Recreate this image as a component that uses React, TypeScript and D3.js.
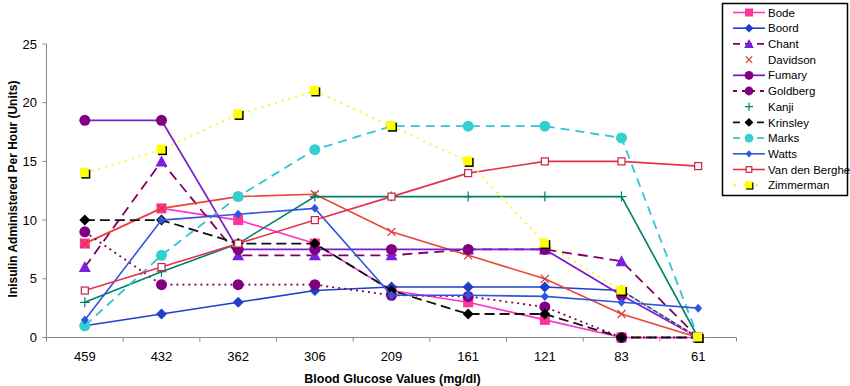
import React from "react";
import * as d3 from "d3";

const categories = ["459", "432", "362", "306", "209", "161", "121", "83", "61"];
const yTicks = [0, 5, 10, 15, 20, 25];

const bode = [8, 11, 10, 8, 4, 3, 1.5, 0, 0];
const boord = [1, 2, 3, 4, 4.3, 4.3, 4.3, 4, 0];
const chant = [6, 15, 7, 7, 7, 7.5, 7.5, 6.5, 0];
const davidson = [8, 11, 12, 12.2, 9, 7, 5, 2, 0];
const fumary = [18.5, 18.5, 7.5, 7.5, 7.5, 7.5, 7.5, 3.6, 0];
const goldberg = [9, 4.5, 4.5, 4.5, 3.6, 3.5, 2.6, 0, 0];
const kanji = [3, 5.6, 8, 12, 12, 12, 12, 12, 0];
const krinsley = [10, 10, 8, 8, 4, 2, 2, 0, 0];
const marks = [1, 7, 12, 16, 18, 18, 18, 17, 0];
const watts = [1.5, 10, 10.5, 11, 3.6, 3.6, 3.5, 3, 2.5];
const vandenberghe = [4, 6, 8, 10, 12, 14, 15, 15, 14.6];
const zimmerman = [14, 16, 19, 21, 18, 15, 8, 4, 0];

type Marker = "square" | "diamond" | "smalldiamond" | "triangle" | "x" | "circle" | "plus" | "opensquare" | "shadowsquare";

interface Series {
  name: string;
  values: number[];
  line: string;
  marker: Marker;
  mcolor: string;
  dash: string | null;
  width: number;
  legendLine: boolean;
}

const series: Series[] = [
  { name: "Bode", values: bode, line: "#FF33CC", marker: "square", mcolor: "#FF3399", dash: null, width: 1.6, legendLine: true },
  { name: "Boord", values: boord, line: "#1F3FCC", marker: "diamond", mcolor: "#1F3FCC", dash: null, width: 1.6, legendLine: true },
  { name: "Chant", values: chant, line: "#800066", marker: "triangle", mcolor: "#7A1FE0", dash: "10,6", width: 1.8, legendLine: true },
  { name: "Davidson", values: davidson, line: "#EE4433", marker: "x", mcolor: "#D03838", dash: null, width: 1.6, legendLine: false },
  { name: "Fumary", values: fumary, line: "#7A1FCC", marker: "circle", mcolor: "#800080", dash: null, width: 1.8, legendLine: true },
  { name: "Goldberg", values: goldberg, line: "#800050", marker: "circle", mcolor: "#800080", dash: "2,4", width: 1.8, legendLine: true },
  { name: "Kanji", values: kanji, line: "#007F66", marker: "plus", mcolor: "#007F66", dash: null, width: 1.6, legendLine: false },
  { name: "Krinsley", values: krinsley, line: "#111111", marker: "diamond", mcolor: "#000000", dash: "10,5", width: 1.8, legendLine: true },
  { name: "Marks", values: marks, line: "#33C4D4", marker: "circle", mcolor: "#33D0D0", dash: "9,6", width: 1.8, legendLine: true },
  { name: "Watts", values: watts, line: "#3355DD", marker: "smalldiamond", mcolor: "#2E55DD", dash: null, width: 1.6, legendLine: true },
  { name: "Van den Berghe", values: vandenberghe, line: "#E8304A", marker: "opensquare", mcolor: "#CC2244", dash: null, width: 1.6, legendLine: true },
  { name: "Zimmerman", values: zimmerman, line: "#FFF233", marker: "shadowsquare", mcolor: "#FFFF00", dash: "2,5", width: 2, legendLine: true },
];

function MarkerShape({ m, x, y, color, scale = 1 }: { m: Marker; x: number; y: number; color: string; scale?: number }) {
  const s = scale;
  switch (m) {
    case "square":
      return <rect x={x - 5 * s} y={y - 5 * s} width={10 * s} height={10 * s} fill={color} />;
    case "shadowsquare":
      return (
        <g>
          <rect x={x - 3.5 * s} y={y - 3.5 * s} width={9 * s} height={9 * s} fill="#000" />
          <rect x={x - 5 * s} y={y - 5 * s} width={9 * s} height={9 * s} fill={color} />
        </g>
      );
    case "opensquare":
      return <rect x={x - 3.5 * s} y={y - 3.5 * s} width={7 * s} height={7 * s} fill="#fff" stroke={color} strokeWidth={1.2} />;
    case "diamond":
      return <path d={`M${x},${y - 5.5 * s}L${x + 5.5 * s},${y}L${x},${y + 5.5 * s}L${x - 5.5 * s},${y}Z`} fill={color} />;
    case "smalldiamond":
      return <path d={`M${x},${y - 4.5 * s}L${x + 4 * s},${y}L${x},${y + 4.5 * s}L${x - 4 * s},${y}Z`} fill={color} />;
    case "triangle":
      return <path d={`M${x},${y - 6 * s}L${x + 6 * s},${y + 5 * s}L${x - 6 * s},${y + 5 * s}Z`} fill={color} />;
    case "circle":
      return <circle cx={x} cy={y} r={5.5 * s} fill={color} />;
    case "x":
      return (
        <path d={`M${x - 4 * s},${y - 4 * s}L${x + 4 * s},${y + 4 * s}M${x - 4 * s},${y + 4 * s}L${x + 4 * s},${y - 4 * s}`} stroke={color} strokeWidth={1.2} />
      );
    case "plus":
      return <path d={`M${x - 5 * s},${y}L${x + 5 * s},${y}M${x},${y - 5 * s}L${x},${y + 5 * s}`} stroke={color} strokeWidth={1.2} />;
  }
  return null;
}

export default function App() {
  const W = 850;
  const H = 386;
  const x0 = 46.5;
  const x1 = 736.5;
  const y0 = 337.5;
  const y1 = 44;
  const x = d3.scaleBand<string>().domain(categories).range([x0, x1]).padding(0);
  const y = d3.scaleLinear().domain([0, 25]).range([y0, y1]);
  const cx = (c: string) => (x(c) as number) + x.bandwidth() / 2;
  const line = d3
    .line<number>()
    .x((_, i) => cx(categories[i]))
    .y((v) => y(v));

  const font = "'Liberation Sans', Arial, sans-serif";
  const boundaries = categories.map((c) => x(c) as number).concat([x1]);

  const legX = 722.5;
  const legY = 3.5;
  const legW = 125;
  const legH = 192;
  const rowH = 15.7;

  return (
    <div style={{ position: "absolute", left: 0, top: 0 }}>
      <svg width={W} height={H} style={{ display: "block", background: "#fff" }}>
        <rect x={0} y={0} width={W} height={H} fill="#fff" />
        {/* axes */}
        <line x1={x0} x2={x0} y1={y1} y2={y0} stroke="#888" strokeWidth={1} />
        <line x1={x0} x2={x1} y1={y0} y2={y0} stroke="#888" strokeWidth={1} />
        {yTicks.map((t) => (
          <g key={t}>
            <line x1={x0 - 4} x2={x0} y1={y(t)} y2={y(t)} stroke="#888" />
            <text x={37} y={y(t)} dy="0.36em" textAnchor="end" fontFamily={font} fontSize={13} fill="#000">
              {t}
            </text>
          </g>
        ))}
        {boundaries.map((b, i) => (
          <line key={i} x1={b} x2={b} y1={y0} y2={y0 + 4} stroke="#888" />
        ))}
        {categories.map((c) => (
          <text key={c} x={cx(c)} y={356} dy="0.36em" textAnchor="middle" fontFamily={font} fontSize={13} fill="#000">
            {c}
          </text>
        ))}
        <text x={(x0 + x1) / 2 + 1} y={378} dy="0.36em" textAnchor="middle" fontFamily={font} fontSize={12.5} fontWeight="bold">
          Blood Glucose Values (mg/dl)
        </text>
        <text
          transform={`translate(13,189) rotate(-90)`}
          dy="0.36em"
          textAnchor="middle"
          fontFamily={font}
          fontSize={12}
          fontWeight="bold"
        >
          Inisulin Administered Per Hour (Units)
        </text>

        {/* series */}
        {series.map((s) => (
          <g key={s.name}>
            <path
              d={line(s.values) || ""}
              fill="none"
              stroke={s.line}
              strokeWidth={s.width}
              strokeDasharray={s.dash || undefined}
            />
            {s.values.map((v, i) => (
              <MarkerShape key={i} m={s.marker} x={cx(categories[i])} y={y(v)} color={s.mcolor} />
            ))}
          </g>
        ))}

        {/* legend */}
        <rect x={legX} y={legY} width={legW} height={legH} fill="#fff" stroke="#000" strokeWidth={1.5} />
        {series.map((s, i) => {
          const ly = 12.5 + i * rowH;
          return (
            <g key={s.name}>
              {s.legendLine && (
                <line
                  x1={733}
                  x2={765}
                  y1={ly}
                  y2={ly}
                  stroke={s.line}
                  strokeWidth={s.width}
                  strokeDasharray={s.dash === "2,4" ? "4,5" : s.dash === "2,5" ? "3,8" : s.dash ? "7,5" : undefined}
                />
              )}
              <MarkerShape m={s.marker} x={749} y={ly} color={s.mcolor} scale={0.8} />
              <text x={768} y={ly} dy="0.36em" fontFamily={font} fontSize={11.5} fill="#000">
                {s.name}
              </text>
            </g>
          );
        })}
      </svg>
    </div>
  );
}
